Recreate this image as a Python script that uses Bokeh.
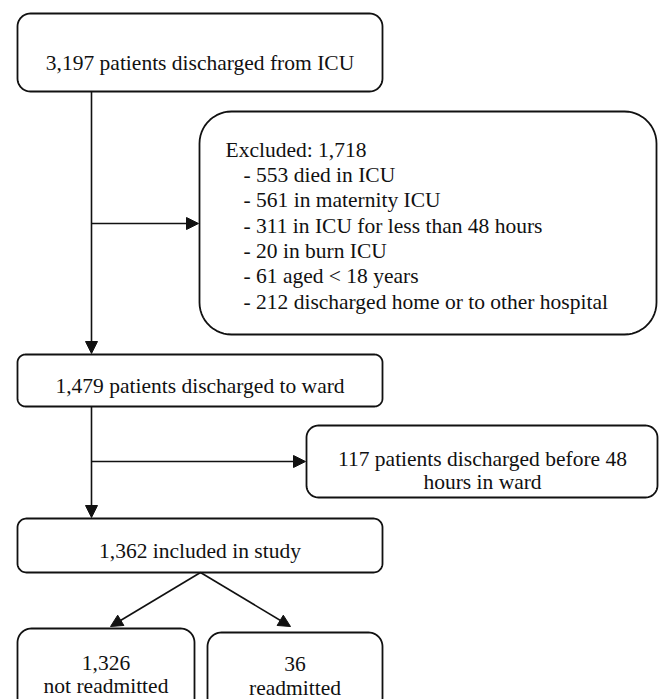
import numpy as np
from bokeh.plotting import figure
from bokeh.models import Range1d, Arrow, NormalHead
from bokeh.core.properties import value
from bokeh.embed import file_html
from bokeh.resources import INLINE

# ---- data (counts and labels) ----
n_discharged_icu = 3197
n_excluded = 1718
excl_counts = [553, 561, 311, 20, 61, 212]
excl_reasons = ["died in ICU", "in maternity ICU", "in ICU for less than 48 hours",
                "in burn ICU", "aged < 18 years", "discharged home or to other hospital"]
n_to_ward = 1479
n_early_ward = 117
n_included = 1362
n_not_readmitted = 1326
n_readmitted = 36

# ---- layout (pixel space of the chart) ----
BOX = {  # x0, x1, y0, y1, corner radius
    "icu":      (17, 382, 13, 91, 13),
    "excl":     (199, 656, 111, 334, 32),
    "ward":     (17, 382, 354, 406, 8),
    "early":    (306, 657, 425, 497, 12),
    "incl":     (17, 382, 518, 572, 9),
    "notre":    (17, 194, 628, 712, 14),
    "re":       (207, 382, 632, 712, 14),
}
INK = "#111111"
FONT = value("Liberation Serif")
FS = "21.5px"


def rrect(x0, x1, y0, y1, r, n=14):
    xs, ys = [], []
    for cx, cy, a0 in [(x0 + r, y0 + r, np.pi), (x1 - r, y0 + r, 1.5 * np.pi),
                       (x1 - r, y1 - r, 0.0), (x0 + r, y1 - r, 0.5 * np.pi)]:
        t = np.linspace(a0, a0 + 0.5 * np.pi, n)
        xs.extend(cx + r * np.cos(t))
        ys.extend(cy + r * np.sin(t))
    return list(xs), list(ys)


p = figure(width=662, height=699, x_range=Range1d(0, 662), y_range=Range1d(699, 0),
           output_backend="svg", toolbar_location=None, min_border=0,
           outline_line_color=None, background_fill_color="white")
p.axis.visible = False
p.grid.visible = False

# arrows
def arrow(x0, y0, x1, y1):
    p.add_layout(Arrow(end=NormalHead(size=12, fill_color=INK, line_color=INK, line_width=1),
                       x_start=x0, y_start=y0, x_end=x1, y_end=y1,
                       line_color=INK, line_width=1.6))

arrow(91, 91, 91, 353)
arrow(91, 223, 198, 223)
arrow(91, 406, 91, 517)
arrow(91, 461, 305, 461)
arrow(200, 572, 110, 626)
arrow(200, 572, 290, 626)

# boxes
bx, by = [], []
for k, (x0, x1, y0, y1, r) in BOX.items():
    xs, ys = rrect(x0, x1, y0, y1, r)
    bx.append(xs)
    by.append(ys)
p.patches(bx, by, fill_color="white", line_color=INK, line_width=1.8)


def txt(x, y, s, align="center"):
    p.text([x], [y], [s], text_font=FONT, text_font_size=FS, text_color=INK,
           text_align=align, text_baseline="alphabetic")

txt(199.5, 62, f"{n_discharged_icu:,} patients discharged from ICU")
txt(225, 149, f"Excluded: {n_excluded:,}", align="left")
for i, (c, r) in enumerate(zip(excl_counts, excl_reasons)):
    txt(243, 174.5 + 25.3 * i, f"- {c:,} {r}", align="left")
txt(199.5, 385, f"{n_to_ward:,} patients discharged to ward")
txt(482, 458, f"{n_early_ward:,} patients discharged before 48")
txt(482, 481, "hours in ward")
txt(199.5, 550, f"{n_included:,} included in study")
txt(105.5, 662, f"{n_not_readmitted:,}")
txt(105.5, 685, "not readmitted")
txt(294.5, 663, f"{n_readmitted:,}")
txt(294.5, 687, "readmitted")

open("out.html", "w").write(file_html(p, INLINE))
